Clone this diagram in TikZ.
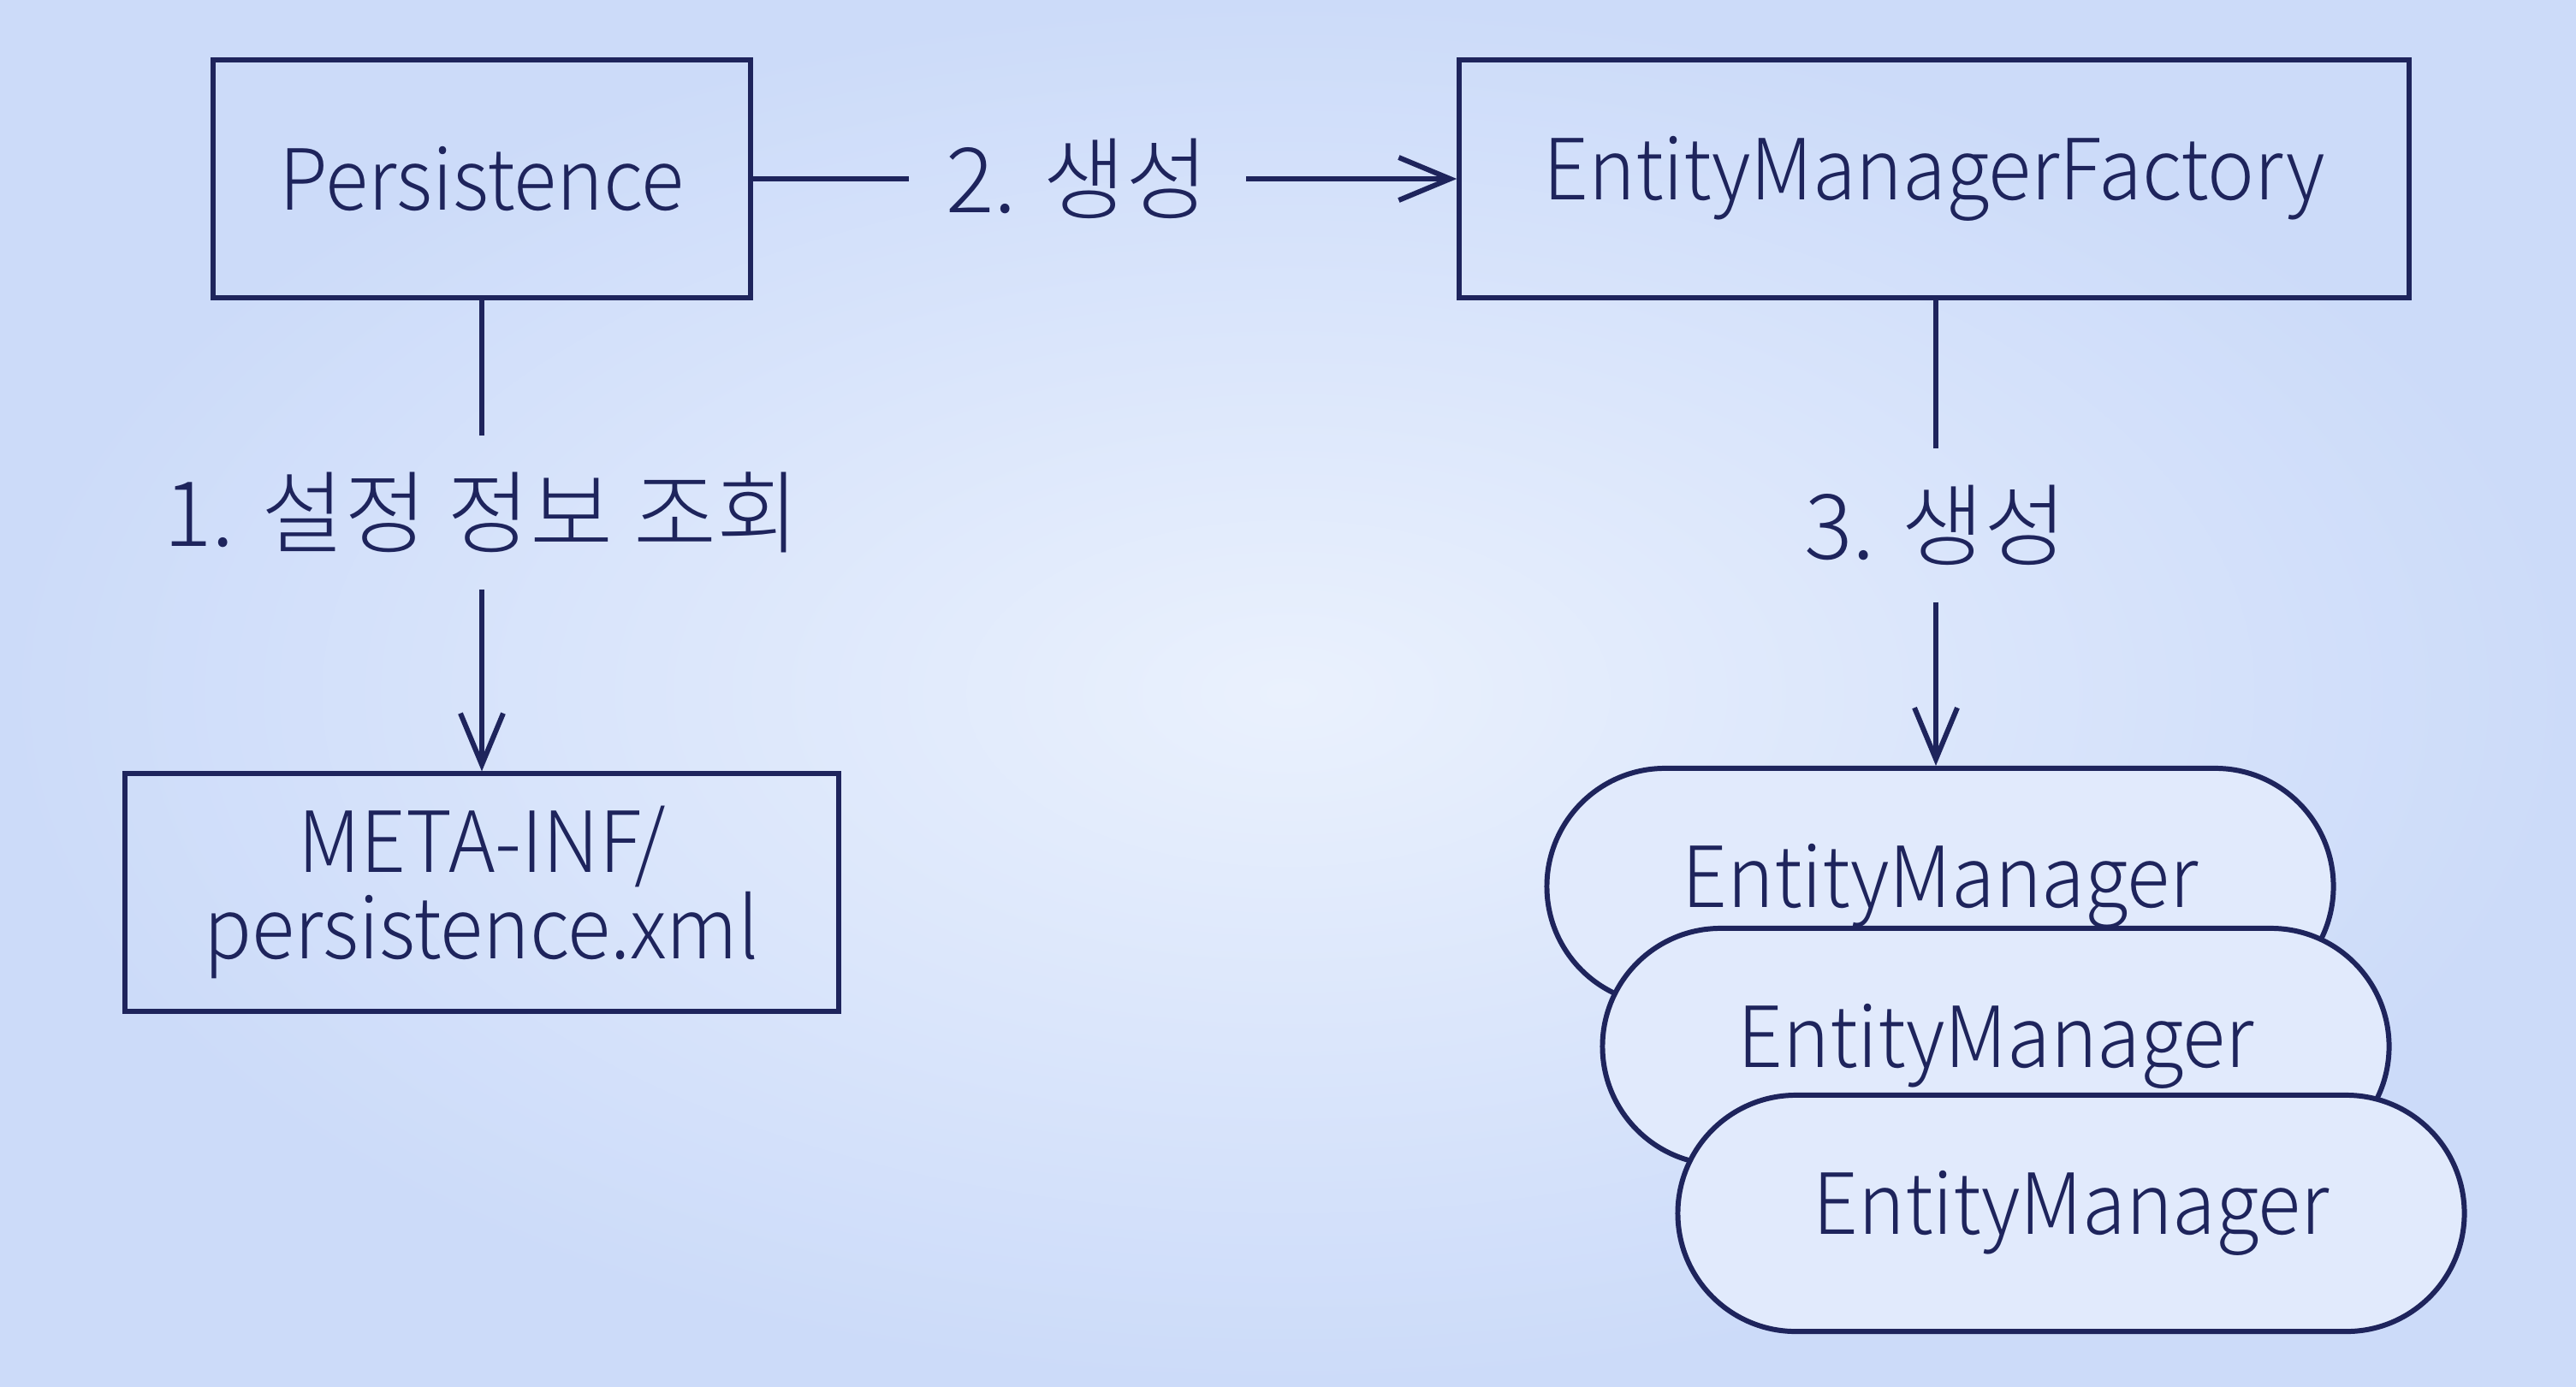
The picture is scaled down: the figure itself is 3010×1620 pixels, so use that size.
\documentclass[tikz,border=0pt]{standalone}
\usepackage{fontspec}
\setmainfont{Noto Sans CJK KR Light}[FakeStretch=0.94]
\newfontfamily\kofont{Noto Sans CJK KR Light}
\usetikzlibrary{positioning, shapes.misc, arrows.meta}
\definecolor{inkblue}{RGB}{30,36,92}
\definecolor{bgout}{RGB}{204,219,249}
\definecolor{bgin}{RGB}{234,241,253}

\begin{document}
\begin{tikzpicture}[x=0.01cm, y=-0.01cm,
    every node/.style={font=\fontsize{28}{28.5}\selectfont, text=inkblue},
    box/.style={draw=inkblue, line width=1.7pt, minimum width=#1, minimum height=2.77cm, align=center},
    pill/.style={draw=inkblue, fill=bgin!70!bgout, line width=1.7pt, rounded rectangle, minimum width=9.42cm, minimum height=2.76cm},
    lbl/.style={inner sep=0.42cm, font=\kofont\fontsize{30}{30}\selectfont},
    linkline/.style={draw=inkblue, line width=1.7pt},
    arrowline/.style={linkline, -{Straight Barb[length=6mm, width=5mm]}}]
  \shade[inner color=bgin, outer color=bgout] (0,0) rectangle (3010,1620);

  \node[box=6.27cm] (pers) at (563,209) {Persistence};
  \node[box=11.09cm] (emf) at (2260,209) {EntityManagerFactory};
  \node[box=8.33cm] (meta) at (563,1043) {META-INF/\\persistence.xml};

  \node[pill] (em1) at (2267,1036) {EntityManager};
  \node[pill] (em2) at (2332,1223) {EntityManager};
  \node[pill] (em3) at (2420,1418) {EntityManager};

  \node[lbl] (make2) at (1259,209) {2. 생성};
  \node[lbl] (read1) at (563,599) {1. 설정 정보 조회};
  \node[lbl] (make3) at (2262,614) {3. 생성};

  \draw[linkline] (pers) -- (make2);
  \draw[arrowline] (make2) -- (emf);
  \draw[linkline] (pers) -- (read1);
  \draw[arrowline] (read1) -- (meta);
  \draw[linkline] (emf.south -| make3) -- (make3);
  \draw[arrowline] (make3) -- (make3 |- em1.north);
\end{tikzpicture}
\end{document}
